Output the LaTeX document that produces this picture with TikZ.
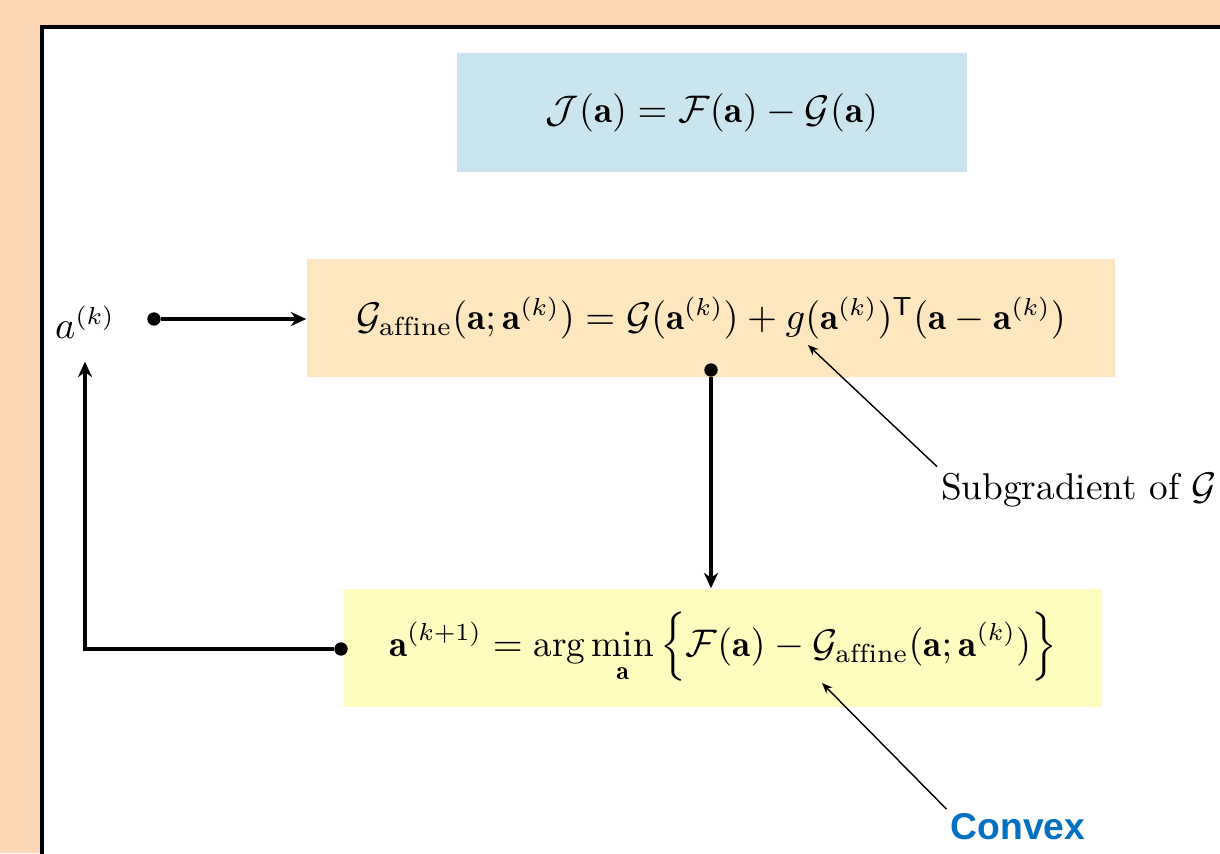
\documentclass[tikz,border=0pt]{standalone}
\usepackage{fontspec}
\usepackage{amsmath}
\usepackage{xcolor}
\usepackage{tikz}
\usetikzlibrary{arrows.meta,positioning,calc}
\definecolor{pagebg}{RGB}{252,213,181}
\definecolor{costblue}{RGB}{203,229,238}
\definecolor{affineorange}{RGB}{253,231,191}
\definecolor{stepyellow}{RGB}{255,252,192}
\definecolor{convexblue}{RGB}{0,112,192}
\newfontfamily\convexfont{Liberation Sans}

\begin{document}
\begin{tikzpicture}[every node/.style={font=\fontsize{10.6}{12.7}\selectfont}, box/.style={minimum height=11.8mm, inner sep=0pt}, arr/.style={-{Stealth[length=4.4pt,width=4pt]}, line width=0.95pt}, note/.style={-{Stealth[length=3pt,width=2.4pt]}, thin}, dot/.style={circle, fill, inner sep=0pt, minimum size=3.8pt}]
\useasboundingbox (0,0) rectangle (12.2,-8.53);
\fill[pagebg] (0,0) rectangle (12.2,-8.53);
\filldraw[fill=white, line width=1.1pt] (0.42,-0.27) rectangle (12.6,-8.8);
\node[box, fill=costblue, minimum width=51mm, minimum height=11.9mm] (cost) at (7.12,-1.125) {$\mathcal{J}(\mathbf{a}) = \mathcal{F}(\mathbf{a}) - \mathcal{G}(\mathbf{a})$};
\node[box, fill=affineorange, minimum width=80.8mm] (affine) at (7.11,-3.18) {$\mathcal{G}_{\mathrm{affine}}(\mathbf{a};\mathbf{a}^{(k)}) = \mathcal{G}(\mathbf{a}^{(k)}) + g(\mathbf{a}^{(k)})^{\mathsf{T}}(\mathbf{a} - \mathbf{a}^{(k)})$};
\node[box, fill=stepyellow, minimum width=75.8mm] (update) at (7.23,-6.48) {$\displaystyle \mathbf{a}^{(k+1)} = \arg\min_{\mathbf{a}} \Big\{ \mathcal{F}(\mathbf{a}) - \mathcal{G}_{\mathrm{affine}}(\mathbf{a};\mathbf{a}^{(k)}) \Big\}$};
\node (ak) at (0.85,-3.22) {$a^{(k)}$};
\node[dot] (d1) at (1.54,-3.19) {};
\node[dot] (d2) at (7.11,-3.70) {};
\node[dot] (d3) at (3.41,-6.49) {};
\draw[arr] (d1) -- (d1 -| affine.west);
\draw[arr] (d2) -- (d2 |- update.north);
\draw[arr, shorten >=0.11cm] (d3) -| (ak.south);
\node[anchor=west, inner sep=1pt] (subg) at (9.37,-4.90) {Subgradient of $\mathcal{G}(\mathbf{a})$};
\node[anchor=west, inner sep=1pt, font=\convexfont\bfseries\fontsize{10.6}{12.7}\selectfont, text=convexblue] (cvx) at (9.465,-8.265) {Convex};
\coordinate (gtip) at (8.08,-3.45);
\coordinate (ftip) at (8.22,-6.83);
\draw[note] (subg.north west) -- (gtip);
\draw[note] (cvx.north west) -- (ftip);
\end{tikzpicture}
\end{document}
